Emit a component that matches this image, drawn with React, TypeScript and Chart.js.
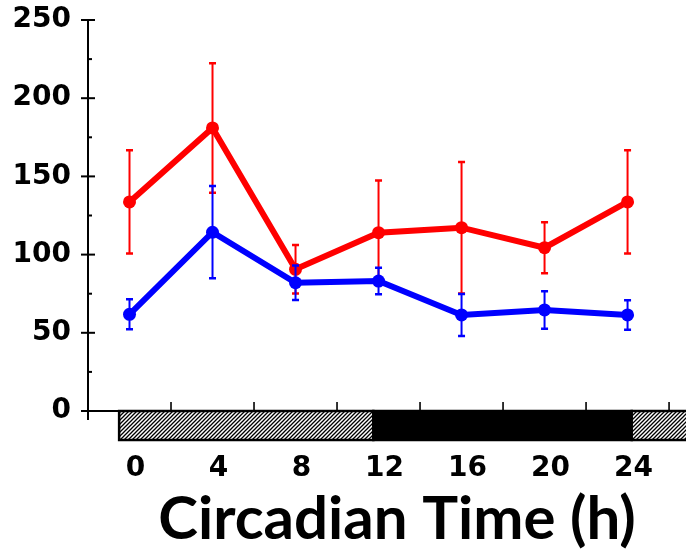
import React, { useEffect, useRef } from "react";
import { Chart, registerables } from "chart.js";

Chart.register(...registerables);

// ---- data ----
const circadianTimes = [0, 4, 8, 12, 16, 20, 24];
const redMeans = [133.7, 181.0, 90.6, 114.0, 117.2, 104.4, 133.7];
const redErrors = [33.0, 41.4, 15.5, 33.3, 42.0, 16.3, 33.0];
const blueMeans = [61.8, 114.3, 82.0, 83.1, 61.4, 64.6, 61.4];
const blueErrors = [9.6, 29.5, 11.0, 8.5, 13.4, 12.0, 9.4];

const yTickValues = [0, 50, 100, 150, 200, 250];
const yMinorTickValues = [25, 75, 125, 175, 225];
const xLabelValues = [0, 4, 8, 12, 16, 20, 24];
const xTickMarkValues = [2, 6, 10, 14, 18, 22, 26];

const phaseStarts = [-0.5, 11.75, 24.2];
const phaseEnds = [11.75, 24.2, 30];
const phaseKinds = ["light", "dark", "light"];

const xAxisTitle = "Circadian Time (h)";

const RED = "#ff0000";
const BLUE = "#0000ff";

function makeHatch(): CanvasPattern | string {
  const c = document.createElement("canvas");
  c.width = 4;
  c.height = 4;
  const g = c.getContext("2d");
  if (!g) return "#888";
  g.fillStyle = "#fff";
  g.fillRect(0, 0, 4, 4);
  g.strokeStyle = "#000";
  g.lineWidth = 1.3;
  g.beginPath();
  g.moveTo(-1, 5);
  g.lineTo(5, -1);
  g.moveTo(-1, 1);
  g.lineTo(1, -1);
  g.moveTo(3, 5);
  g.lineTo(5, 3);
  g.stroke();
  const p = g.createPattern(c, "repeat");
  return p || "#888";
}

const axesPlugin = {
  id: "customAxes",
  beforeDatasetsDraw(chart: any) {
    const { ctx, chartArea, scales } = chart;
    const x = scales.x;
    const y = scales.y;
    const y0 = y.getPixelForValue(0);
    const left = chartArea.left;
    ctx.save();
    // light / dark bar
    const hatch = makeHatch();
    const barTop = y0;
    const barBottom = y0 + 29;
    for (let i = 0; i < phaseStarts.length; i++) {
      const x1 = x.getPixelForValue(phaseStarts[i]);
      const x2 = x.getPixelForValue(phaseEnds[i]);
      ctx.fillStyle = phaseKinds[i] === "dark" ? "#000" : hatch;
      ctx.fillRect(x1, barTop, x2 - x1, barBottom - barTop);
      ctx.strokeStyle = "#000";
      ctx.lineWidth = 2.5;
      ctx.strokeRect(x1, barTop, x2 - x1, barBottom - barTop);
    }
    ctx.strokeStyle = "#000";
    ctx.lineCap = "butt";
    // y axis line
    ctx.lineWidth = 2;
    ctx.beginPath();
    ctx.moveTo(left, y.getPixelForValue(250) - 1);
    ctx.lineTo(left, y0 + 9);
    ctx.stroke();
    // major ticks
    for (const v of yTickValues) {
      const p = y.getPixelForValue(v);
      ctx.beginPath();
      ctx.moveTo(left - 7, p);
      ctx.lineTo(left + 7, p);
      ctx.stroke();
    }
    // minor ticks
    for (const v of yMinorTickValues) {
      const p = y.getPixelForValue(v);
      ctx.beginPath();
      ctx.moveTo(left, p);
      ctx.lineTo(left + 4, p);
      ctx.stroke();
    }
    // x axis line
    ctx.beginPath();
    ctx.moveTo(left, y0);
    ctx.lineTo(chartArea.right, y0);
    ctx.stroke();
    // x tick marks (upward)
    ctx.lineWidth = 1.6;
    for (const v of xTickMarkValues) {
      const p = x.getPixelForValue(v);
      ctx.beginPath();
      ctx.moveTo(p, y0 - 9);
      ctx.lineTo(p, y0);
      ctx.stroke();
    }
    ctx.restore();
  },
};

const errorBarPlugin = {
  id: "errorBars",
  afterDatasetDraw(chart: any, args: any) {
    const { ctx, scales } = chart;
    const y = scales.y;
    const ds = chart.data.datasets[args.index] as any;
    const errs: number[] = ds.errorValues || [];
    const means: number[] = ds.meanValues || [];
    const meta = args.meta;
    ctx.save();
    ctx.strokeStyle = ds.borderColor;
    ctx.lineCap = "butt";
    meta.data.forEach((pt: any, i: number) => {
      const top = y.getPixelForValue(means[i] + errs[i]);
      const bot = y.getPixelForValue(means[i] - errs[i]);
      ctx.lineWidth = 2;
      ctx.beginPath();
      ctx.moveTo(pt.x, top);
      ctx.lineTo(pt.x, bot);
      ctx.stroke();
      ctx.lineWidth = 2.5;
      ctx.beginPath();
      ctx.moveTo(pt.x - 3.5, top);
      ctx.lineTo(pt.x + 3.5, top);
      ctx.moveTo(pt.x - 3.5, bot);
      ctx.lineTo(pt.x + 3.5, bot);
      ctx.stroke();
    });
    ctx.restore();
  },
};

function zeroPadding(s: any) {
  s.paddingTop = 0;
  s.paddingBottom = 0;
  s.paddingLeft = 0;
  s.paddingRight = 0;
}

export default function App() {
  const canvasRef = useRef<HTMLCanvasElement | null>(null);

  useEffect(() => {
    document.body.style.margin = "0";
    const canvas = canvasRef.current;
    if (!canvas) return;
    const tickFont = { family: "'DejaVu Sans', sans-serif", weight: "bold" as const, size: 28 };
    const chart = new Chart(canvas, {
      type: "line",
      data: {
        datasets: [
          {
            label: "Blue",
            data: circadianTimes.map((t, i) => ({ x: t, y: blueMeans[i] })),
            borderColor: BLUE,
            backgroundColor: BLUE,
            pointBackgroundColor: BLUE,
            pointBorderColor: BLUE,
            borderWidth: 6,
            pointRadius: 6.5,
            pointBorderWidth: 0,
            tension: 0,
            clip: false,
            errorValues: blueErrors,
            meanValues: blueMeans,
          } as any,
          {
            label: "Red",
            data: circadianTimes.map((t, i) => ({ x: t, y: redMeans[i] })),
            borderColor: RED,
            backgroundColor: RED,
            pointBackgroundColor: RED,
            pointBorderColor: RED,
            borderWidth: 6,
            pointRadius: 6.5,
            pointBorderWidth: 0,
            tension: 0,
            clip: false,
            errorValues: redErrors,
            meanValues: redMeans,
          } as any,
        ],
      },
      options: {
        responsive: false,
        animation: false,
        layout: { autoPadding: false, padding: { top: 20, left: 0, right: 0, bottom: 0 } },
        plugins: { legend: { display: false }, tooltip: { enabled: false } },
        scales: {
          x: {
            type: "linear",
            min: -2,
            max: 27.78,
            afterBuildTicks: (s: any) => {
              s.ticks = xLabelValues.map((v) => ({ value: v }));
            },
            afterFit: (s: any) => {
              s.height = 140;
              zeroPadding(s);
            },
            grid: { display: false, drawTicks: false, tickLength: 0 },
            border: { display: false },
            ticks: {
              font: tickFont,
              color: "#000",
              padding: 41,
              labelOffset: 6,
              maxRotation: 0,
              autoSkip: false,
            },
            title: {
              display: true,
              text: xAxisTitle,
              color: "#000",
              font: { family: "Lato, sans-serif", weight: "bold", size: 60 },
              padding: { top: 0, bottom: -5 },
            },
          },
          y: {
            min: 0,
            max: 250,
            afterBuildTicks: (s: any) => {
              s.ticks = yTickValues.map((v) => ({ value: v }));
            },
            afterFit: (s: any) => {
              s.width = 88;
              zeroPadding(s);
            },
            grid: { display: false, drawTicks: false, tickLength: 0 },
            border: { display: false },
            ticks: { font: tickFont, color: "#000", padding: 17 },
          },
        },
      },
      plugins: [axesPlugin, errorBarPlugin],
    });
    return () => chart.destroy();
  }, []);

  return (
    <div style={{ width: 686, height: 551, overflow: "hidden", background: "#fff" }}>
      <canvas ref={canvasRef} width={706} height={551} style={{ display: "block" }} />
    </div>
  );
}
